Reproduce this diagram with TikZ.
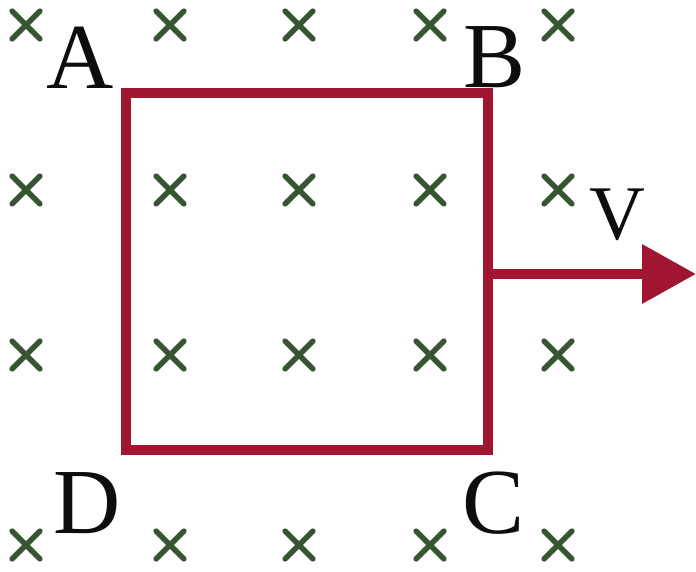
\documentclass[tikz,border=0pt]{standalone}
\usepackage{fontspec}
\setmainfont{Liberation Serif}
\usepackage{tikz}
\usetikzlibrary{arrows.meta, positioning, shapes.misc}
\definecolor{loopred}{RGB}{160,22,50}
\definecolor{fieldgreen}{RGB}{55,85,50}
\tikzset{
  fieldmark/.style={
    cross out, draw=fieldgreen, line width=3.2pt, line cap=round,
    minimum size=0.44cm, inner sep=0pt
  },
  loopbox/.style={
    rectangle, draw=loopred, line width=5.6pt, inner sep=0pt,
    minimum width=7.24cm, minimum height=7.14cm
  },
  cornerlabel/.style={
    font=\fontsize{53}{60}\selectfont, text=black!95, inner sep=0pt
  },
  velarrow/.style={
    draw=loopred, line width=5.8pt,
    -{Triangle[length=1.08cm, width=1.14cm]}
  }
}

\begin{document}
\begin{tikzpicture}[x=0.02cm, y=-0.02cm]
    \useasboundingbox (0,0) rectangle (696,571);

    % magnetic field into the page
    \foreach \r/\yy in {1/25, 2/190, 3/355, 4/545} {
      \foreach \c/\xx in {1/26, 2/170, 3/299, 4/430, 5/558} {
        \node[fieldmark] (b-\r-\c) at (\xx,\yy) {};
      }
    }

    \node[loopbox] (loop) at (307,271.5) {};

    \node[cornerlabel] (la) at (80,58) {A};
    \node[cornerlabel] (lb) at (495,57) {B};
    \node[cornerlabel] (lc) at (494,503) {C};
    \node[cornerlabel] (ld) at (87,503) {D};
    \node[cornerlabel, font=\fontsize{44}{50}\selectfont] (lv) at (617,215) {V};

    \coordinate (vend) at (696,274);
    \draw[velarrow] (loop.east |- vend) -- (vend);
  \end{tikzpicture}
\end{document}
